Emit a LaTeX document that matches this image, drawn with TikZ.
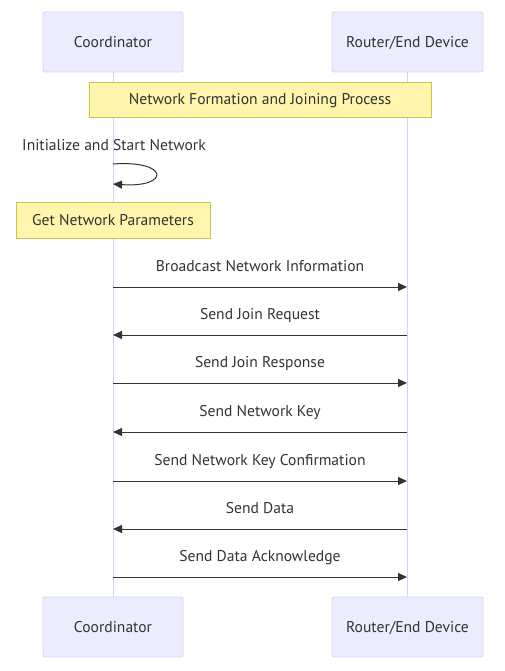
\documentclass[tikz,border=0pt]{standalone}
\usepackage{fontspec}
\setmainfont{PT Sans}
\usetikzlibrary{arrows.meta}
\definecolor{actfill}{HTML}{ECECFF}
\definecolor{actline}{HTML}{D9D0F5}
\definecolor{notefill}{HTML}{FFF5AD}
\definecolor{noteline}{HTML}{C8C650}
\definecolor{txt}{HTML}{333333}
\newcommand{\dfont}{\fontsize{15.6}{18}\selectfont}
\tikzset{
  actor/.style={draw=actline, fill=actfill, rounded corners=2pt, line width=0.8pt, minimum height=60pt, text=txt, font=\dfont, inner sep=0pt, text height=12.5pt, text depth=1.5pt},
  note/.style={draw=noteline, fill=notefill, line width=0.8pt, text=txt, font=\dfont, inner sep=0pt, text height=12.5pt, text depth=1.5pt},
  lifeline/.style={draw=actline, line width=1pt},
  msg/.style={draw=txt, line width=1pt, -{Triangle[length=9pt,width=8pt]}},
  lbl/.style={text=txt, font=\dfont, inner sep=0pt}
}
\begin{document}
\begin{tikzpicture}[x=1pt,y=-1pt]
\useasboundingbox (0,0) rectangle (504,671);
% lifelines
\coordinate (cT) at (113,72);
\coordinate (cB) at (113,597);
\coordinate (rT) at (407,72);
\coordinate (rB) at (407,597);
\draw[lifeline] (cT) -- (cB);
\draw[lifeline] (rT) -- (rB);
% actors
\node[actor, minimum width=140pt] (c1) at (113,42) {Coordinator};
\node[actor, minimum width=151pt] (r1) at (407.5,42) {Router/End Device};
\node[actor, minimum width=140pt] (c2) at (113,627) {Coordinator};
\node[actor, minimum width=151pt] (r2) at (407.5,627) {Router/End Device};
% notes
\node[note, minimum width=342pt, minimum height=35pt] (n1) at (260,99.5) {Network Formation and Joining Process};
\node[lbl, anchor=base] (selfl) at (114,150.5) {Initialize and Start Network};
\coordinate (s1) at (113,164);
\coordinate (s2) at (113,184);
\draw[msg] (s1) .. controls (170,160) and (170,188) .. (s2);
\node[note, minimum width=194pt, minimum height=36pt] (n2) at (113,220) {Get Network Parameters};
% messages
\foreach \y/\t/\d [count=\i] in {
  287/Broadcast Network Information/r,
  335/Send Join Request/l,
  383/Send Join Response/r,
  432/Send Network Key/l,
  481/Send Network Key Confirmation/r,
  529/Send Data/l,
  577/Send Data Acknowledge/r}{
  \coordinate (a\i) at (113,\y);
  \coordinate (b\i) at (407,\y);
  \node[lbl, anchor=base] (m\i) at (260,\y-15.5) {\t};
  \if\d r
    \draw[msg] (a\i) -- (b\i);
  \else
    \draw[msg] (b\i) -- (a\i);
  \fi
}
\end{tikzpicture}
\end{document}
